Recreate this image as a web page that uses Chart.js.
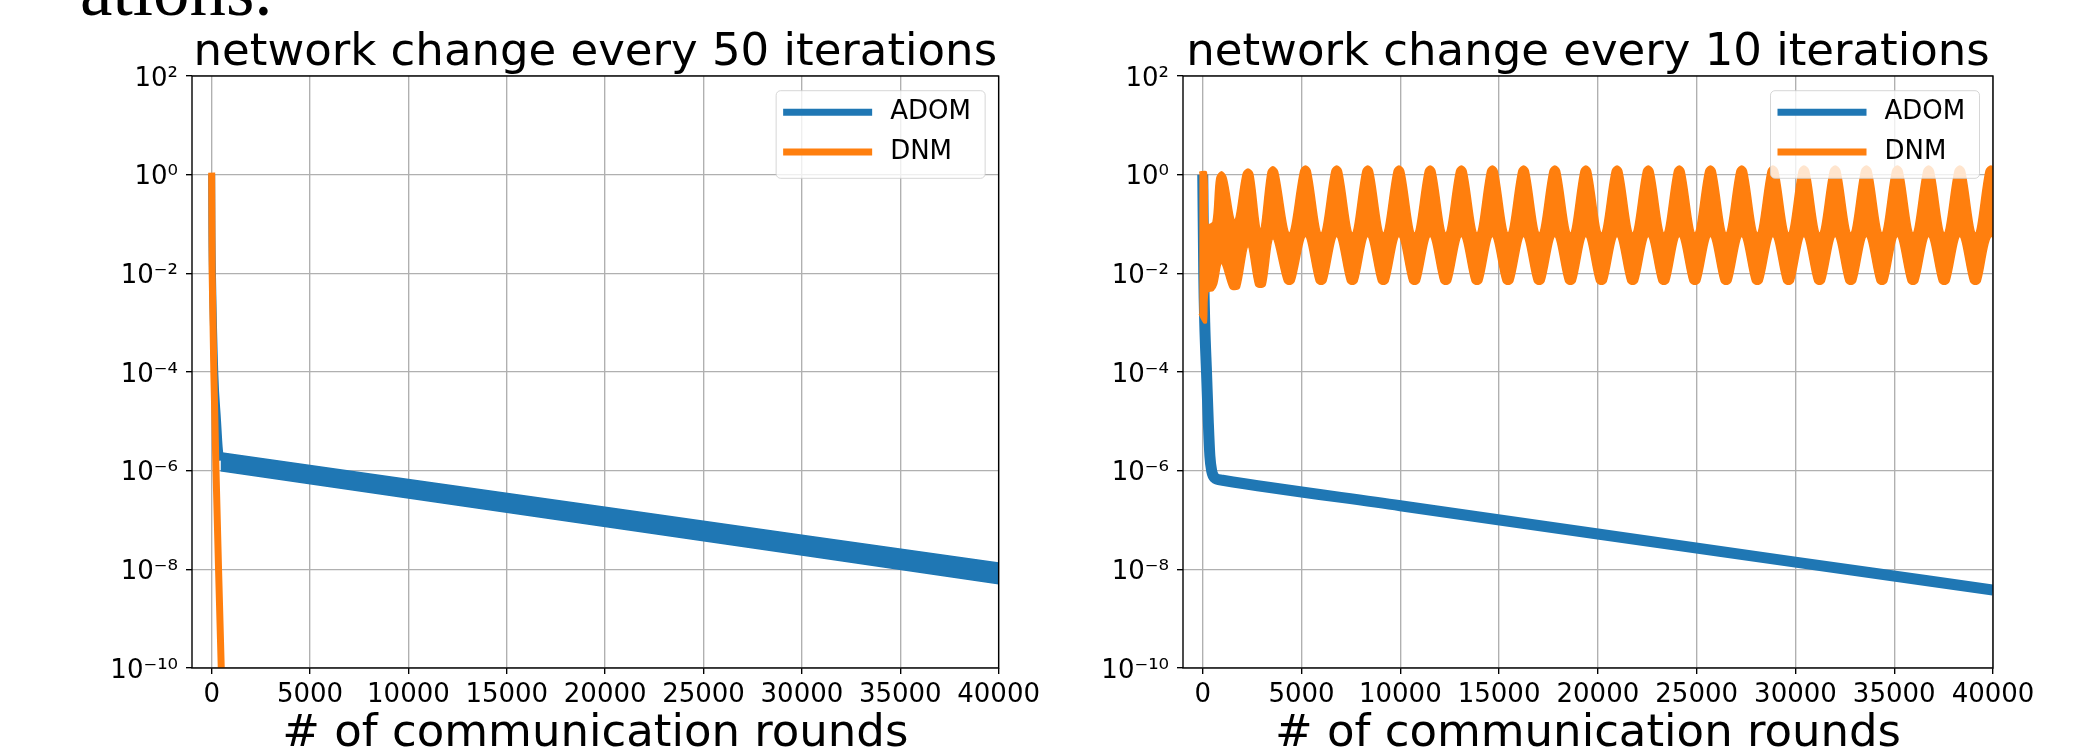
<!DOCTYPE html>
<html><head><meta charset="utf-8">
<script src="https://cdn.jsdelivr.net/npm/chart.js@4.4.1/dist/chart.umd.min.js"></script>
<style>
html,body{margin:0;padding:0;background:#fff;}
body{width:2093px;height:752px;position:relative;overflow:hidden;}
#wrapL{position:absolute;left:0;top:0;width:1046px;height:770px;}
#wrapR{position:absolute;left:1046px;top:0;width:1047px;height:770px;}
#frag{position:absolute;left:80px;top:-46px;font-family:'Liberation Serif',serif;font-size:73px;line-height:73px;color:#000;white-space:nowrap;}
</style></head><body>
<div id="frag">ations.</div>
<div id="wrapL"><canvas id="cL" width="1046" height="770"></canvas></div>
<div id="wrapR"><canvas id="cR" width="1047" height="770"></canvas></div>
<script>
// ---------- shared labels ----------
const xTicks = [0, 5000, 10000, 15000, 20000, 25000, 30000, 35000, 40000];
const xTickLabels = ['0','5000','10000','15000','20000','25000','30000','35000','40000'];
const yTicks = [1e-10, 1e-8, 1e-6, 1e-4, 1e-2, 1, 100];
const yTickLabels = ['10\u207B\u00B9\u2070','10\u207B\u2078','10\u207B\u2076','10\u207B\u2074','10\u207B\u00B2','10\u2070','10\u00B2'];
const seriesNames = ['ADOM', 'DNM'];
const seriesColors = ['#1f77b4', '#ff7f0e'];
const panelTitles = ['network change every 50 iterations', 'network change every 10 iterations'];
const xAxisTitle = '# of communication rounds';

// ---------- left panel: network change every 50 iterations ----------
const adom50DropX = [0, 10, 40, 157, 300, 380, 450];
const adom50DropY = [1.0, 1e-1, 1e-2, 1e-4, 1e-5, 3e-6, 1.6e-6];
const adom50BandX = [450, 10000, 20000, 30000, 40000];
const adom50UpperY = [2.3e-6, 6.65e-7, 1.82e-7, 4.9e-8, 1.35e-8];
const adom50LowerY = [1.0e-6, 2.8e-7, 7.4e-8, 1.95e-8, 5.1e-9];
const dnm50X = [0, 25, 110, 220, 350, 487, 530];
const dnm50Y = [1.1, 1e-2, 1e-4, 1e-6, 1e-8, 1e-10, 1e-11];

// ---------- right panel: network change every 10 iterations ----------
const adom10X = [0, 50, 100, 190, 280, 360, 450, 600, 1000, 10000, 20000, 30000, 40000];
const adom10Y = [1.0, 1e-2, 1e-3, 1e-4, 1e-5, 2e-6, 1e-6, 7.2e-7, 6.4e-7, 1.95e-7, 5.2e-8, 1.4e-8, 3.8e-9];

const dnm10UpperX = [-180, 180, 260, 520, 710, 950, 1190, 1620, 2050, 2290, 2530, 2920, 3310, 3550, 3790, 4380,
 4960, 5200, 5440, 5990,
 6540, 6780, 7020, 7570,
 8110, 8350, 8590, 9140,
 9690, 9930, 10170, 10720,
 11270, 11510, 11750, 12300,
 12850, 13090, 13330, 13880,
 14420, 14660, 14900, 15450,
 16000, 16240, 16480, 17030,
 17580, 17820, 18060, 18610,
 19150, 19390, 19630, 20180,
 20730, 20970, 21210, 21760,
 22310, 22550, 22790, 23340,
 23880, 24120, 24360, 24910,
 25460, 25700, 25940, 26490,
 27040, 27280, 27520, 28070,
 28620, 28860, 29100, 29650,
 30190, 30430, 30670, 31220,
 31770, 32010, 32250, 32800,
 33350, 33590, 33830, 34380,
 34920, 35160, 35400, 35950,
 36500, 36740, 36980, 37530,
 38080, 38320, 38560, 39110,
 39650, 39890, 40130];
const dnm10UpperY = [1.12, 1.12, 0.1, 0.11, 0.85, 1.15, 0.85, 0.12, 1.05, 1.3, 1.05, 0.08, 1.15, 1.45, 1.15, 0.066,
 1.2, 1.5, 1.2, 0.066,
 1.2, 1.5, 1.2, 0.066,
 1.2, 1.5, 1.2, 0.066,
 1.2, 1.5, 1.2, 0.066,
 1.2, 1.5, 1.2, 0.066,
 1.2, 1.5, 1.2, 0.066,
 1.2, 1.5, 1.2, 0.066,
 1.2, 1.5, 1.2, 0.066,
 1.2, 1.5, 1.2, 0.066,
 1.2, 1.5, 1.2, 0.066,
 1.2, 1.5, 1.2, 0.066,
 1.2, 1.5, 1.2, 0.066,
 1.2, 1.5, 1.2, 0.066,
 1.2, 1.5, 1.2, 0.066,
 1.2, 1.5, 1.2, 0.066,
 1.2, 1.5, 1.2, 0.066,
 1.2, 1.5, 1.2, 0.066,
 1.2, 1.5, 1.2, 0.066,
 1.2, 1.5, 1.2, 0.066,
 1.2, 1.5, 1.2, 0.066,
 1.2, 1.5, 1.2, 0.066,
 1.2, 1.5, 1.2, 0.066,
 1.2, 1.5, 1.2];
const dnm10LowerX = [-180, 60, 180, 260, 520, 700, 950, 1380, 1620, 1860, 2290, 2680, 2920, 3160, 3550, 4140, 4380, 4620,
 5200, 5750, 5990, 6230,
 6780, 7330, 7570, 7810,
 8350, 8900, 9140, 9380,
 9930, 10480, 10720, 10960,
 11510, 12060, 12300, 12540,
 13090, 13640, 13880, 14120,
 14660, 15210, 15450, 15690,
 16240, 16790, 17030, 17270,
 17820, 18370, 18610, 18850,
 19390, 19940, 20180, 20420,
 20970, 21520, 21760, 22000,
 22550, 23100, 23340, 23580,
 24120, 24670, 24910, 25150,
 25700, 26250, 26490, 26730,
 27280, 27830, 28070, 28310,
 28860, 29410, 29650, 29890,
 30430, 30980, 31220, 31460,
 32010, 32560, 32800, 33040,
 33590, 34140, 34380, 34620,
 35160, 35710, 35950, 36190,
 36740, 37290, 37530, 37770,
 38320, 38870, 39110, 39350,
 39890, 40500];
const dnm10LowerY = [1.5e-3, 1.0e-3, 1.0e-3, 4.2e-3, 4.5e-3, 6e-3, 0.016, 5.2e-3, 4.7e-3, 5.2e-3, 0.035, 5.8e-3, 5.2e-3, 5.8e-3, 0.05, 6.8e-3, 6.0e-3, 6.8e-3,
 0.056, 0.0068, 0.006, 0.0068,
 0.056, 0.0068, 0.006, 0.0068,
 0.056, 0.0068, 0.006, 0.0068,
 0.056, 0.0068, 0.006, 0.0068,
 0.056, 0.0068, 0.006, 0.0068,
 0.056, 0.0068, 0.006, 0.0068,
 0.056, 0.0068, 0.006, 0.0068,
 0.056, 0.0068, 0.006, 0.0068,
 0.056, 0.0068, 0.006, 0.0068,
 0.056, 0.0068, 0.006, 0.0068,
 0.056, 0.0068, 0.006, 0.0068,
 0.056, 0.0068, 0.006, 0.0068,
 0.056, 0.0068, 0.006, 0.0068,
 0.056, 0.0068, 0.006, 0.0068,
 0.056, 0.0068, 0.006, 0.0068,
 0.056, 0.0068, 0.006, 0.0068,
 0.056, 0.0068, 0.006, 0.0068,
 0.056, 0.0068, 0.006, 0.0068,
 0.056, 0.0068, 0.006, 0.0068,
 0.056, 0.0068, 0.006, 0.0068,
 0.056, 0.0068, 0.006, 0.0068,
 0.056, 0.0068, 0.006, 0.0068,
 0.056, 0.02];

// ---------- helpers ----------
const pts = (xs, ys) => xs.map((x, i) => ({x: x, y: ys[i]}));
const FONT = 'DejaVu Sans';
Chart.defaults.font.family = FONT;
Chart.defaults.color = '#000';

const boxLegend = {
  id: 'boxLegend',
  afterDraw(chart) {
    const ctx = chart.ctx, a = chart.chartArea;
    const w = 209, h = 87.6, r = 4.5;
    const x0 = a.right - 13.5 - w, y0 = a.top + 14.7;
    ctx.save();
    ctx.globalAlpha = 0.8;
    ctx.beginPath();
    ctx.moveTo(x0 + r, y0);
    ctx.lineTo(x0 + w - r, y0); ctx.arcTo(x0 + w, y0, x0 + w, y0 + r, r);
    ctx.lineTo(x0 + w, y0 + h - r); ctx.arcTo(x0 + w, y0 + h, x0 + w - r, y0 + h, r);
    ctx.lineTo(x0 + r, y0 + h); ctx.arcTo(x0, y0 + h, x0, y0 + h - r, r);
    ctx.lineTo(x0, y0 + r); ctx.arcTo(x0, y0, x0 + r, y0, r);
    ctx.closePath();
    ctx.fillStyle = '#ffffff'; ctx.fill();
    ctx.lineWidth = 1; ctx.strokeStyle = '#cccccc'; ctx.stroke();
    ctx.globalAlpha = 1;
    seriesNames.forEach((name, i) => {
      const y = y0 + 21.6 + i * 39.7;
      ctx.strokeStyle = seriesColors[i]; ctx.lineWidth = 7; ctx.lineCap = 'butt';
      ctx.beginPath(); ctx.moveTo(x0 + 7, y); ctx.lineTo(x0 + 96, y); ctx.stroke();
      ctx.fillStyle = '#000'; ctx.font = '26px "' + FONT + '"';
      ctx.textBaseline = 'middle'; ctx.textAlign = 'left';
      ctx.fillText(name, x0 + 114, y);
    });
    ctx.restore();
  }
};
const spines = {
  id: 'spines',
  afterDatasetsDraw(chart) {
    const ctx = chart.ctx, a = chart.chartArea;
    ctx.save();
    ctx.strokeStyle = '#000'; ctx.lineWidth = 1.4;
    ctx.strokeRect(a.left, a.top, a.right - a.left, a.bottom - a.top);
    ctx.restore();
  }
};

function makePanel(id, title, datasets, yAxisWidth, padRight) {
  return new Chart(document.getElementById(id), {
    type: 'line',
    data: {datasets: datasets},
    plugins: [boxLegend, spines],
    options: {
      responsive: false, animation: false, devicePixelRatio: 1,
      layout: {padding: {top: 0, right: padRight, bottom: 0, left: 0}},
      elements: {point: {radius: 0, hoverRadius: 0}},
      plugins: {
        legend: {display: false}, tooltip: {enabled: false},
        title: {display: true, text: title, fullSize: false, color: '#000',
          font: {family: FONT, size: 45, weight: 'normal', lineHeight: 1},
          padding: {top: 31, bottom: 0}}
      },
      scales: {
        x: {
          type: 'linear', min: -1000, max: 40000,
          afterBuildTicks: s => { s.ticks = xTicks.map(v => ({value: v})); },
          afterFit: s => { s.height = 102; },
          ticks: {autoSkip: false, maxRotation: 0, minRotation: 0, padding: 6, color: '#000',
            font: {family: FONT, size: 26, lineHeight: 1.2},
            callback: (v, i) => xTickLabels[i]},
          grid: {color: '#b0b0b0', lineWidth: 1.37, tickLength: 6, tickColor: '#000', tickWidth: 1.37},
          border: {display: false},
          title: {display: true, text: xAxisTitle, color: '#000',
            font: {family: FONT, size: 45, lineHeight: 1}, padding: {top: 0, bottom: 13}}
        },
        y: {
          type: 'logarithmic', min: 1e-10, max: 100,
          afterBuildTicks: s => { s.ticks = yTicks.map(v => ({value: v})); },
          afterFit: s => { s.width = yAxisWidth; },
          ticks: {autoSkip: false, padding: 8, labelOffset: 3, color: '#000',
            font: {family: FONT, size: 26, lineHeight: 1.2},
            callback: (v, i) => yTickLabels[i]},
          grid: {color: '#b0b0b0', lineWidth: 1.37, tickLength: 6, tickColor: '#000', tickWidth: 1.37},
          border: {display: false}
        }
      }
    }
  });
}

// left panel datasets
makePanel('cL', panelTitles[0], [
  {label: seriesNames[1], data: pts(dnm50X, dnm50Y), borderColor: seriesColors[1], borderWidth: 7,
   fill: false, order: 0, clip: 0, tension: 0},
  {label: seriesNames[0], data: pts(adom50BandX, adom50UpperY), borderColor: seriesColors[0], borderWidth: 1.5,
   backgroundColor: seriesColors[0], fill: '+1', order: 1, clip: 0, tension: 0},
  {label: seriesNames[0] + ' (lower)', data: pts(adom50BandX, adom50LowerY), borderColor: seriesColors[0], borderWidth: 1.5,
   fill: false, order: 1, clip: 0, tension: 0},
  {label: seriesNames[0] + ' (start)', data: pts(adom50DropX, adom50DropY), borderColor: seriesColors[0], borderWidth: 7,
   fill: false, order: 1, clip: 0, cubicInterpolationMode: 'monotone'}
], 192, 44);

// right panel datasets
makePanel('cR', panelTitles[1], [
  {label: seriesNames[1], data: pts(dnm10UpperX, dnm10UpperY), borderColor: seriesColors[1], borderWidth: 1.5,
   backgroundColor: seriesColors[1], fill: '+1', order: 0, clip: 0, tension: 0.3},
  {label: seriesNames[1] + ' (lower)', data: pts(dnm10LowerX, dnm10LowerY), borderColor: seriesColors[1], borderWidth: 1.5,
   fill: false, order: 0, clip: 0, tension: 0.3},
  {label: seriesNames[0], data: pts(adom10X, adom10Y), borderColor: seriesColors[0], borderWidth: 11,
   fill: false, order: 1, clip: 0, cubicInterpolationMode: 'monotone'}
], 137, 100);
</script>
</body></html>
